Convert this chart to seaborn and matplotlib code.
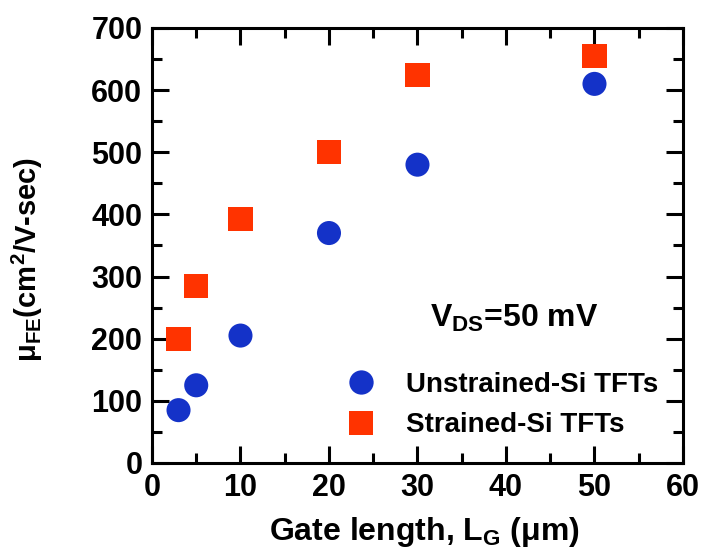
import matplotlib
matplotlib.use("Agg")
import matplotlib.pyplot as plt
from matplotlib.ticker import MultipleLocator
import seaborn as sns
import pandas as pd

# Field-effect mobility vs gate length
gate_length = [3, 5, 10, 20, 30, 50]
mu_unstrained = [85, 125, 205, 370, 480, 610]
mu_strained = [200, 285, 393, 500, 625, 655]
series_names = ["Unstrained-Si TFTs", "Strained-Si TFTs"]

df = pd.DataFrame({
    "L": gate_length * 2,
    "mu": mu_unstrained + mu_strained,
    "device": [series_names[0]] * len(gate_length) + [series_names[1]] * len(gate_length),
})

sns.set_theme(style="ticks")
plt.rcParams["font.family"] = ["Liberation Sans", "DejaVu Sans"]
plt.rcParams["font.weight"] = "bold"
plt.rcParams["text.color"] = "black"
plt.rcParams["axes.labelcolor"] = "black"
plt.rcParams["mathtext.fontset"] = "custom"
plt.rcParams["mathtext.rm"] = "Liberation Sans:bold"
plt.rcParams["mathtext.bf"] = "Liberation Sans:bold"
plt.rcParams["mathtext.it"] = "Liberation Sans:bold"

fig = plt.figure(figsize=(7.01, 5.58), dpi=100)
ax = fig.add_axes([0.2168, 0.1703, 0.7575, 0.7796])

palette = {series_names[0]: "#1432C8", series_names[1]: "#FF3300"}
markers = {series_names[0]: "o", series_names[1]: "s"}
sns.scatterplot(data=df, x="L", y="mu", hue="device", style="device",
                palette=palette, markers=markers, s=300, linewidth=0,
                ax=ax, legend=True)

ax.set_xlim(0, 60)
ax.set_ylim(0, 700)
ax.xaxis.set_major_locator(MultipleLocator(10))
ax.xaxis.set_minor_locator(MultipleLocator(5))
ax.yaxis.set_major_locator(MultipleLocator(100))
ax.yaxis.set_minor_locator(MultipleLocator(50))
ax.tick_params(which="both", direction="in", top=True, right=True,
               width=2.2, colors="black")
ax.tick_params(which="major", length=12.5, labelsize=22, pad=7)
ax.tick_params(which="minor", length=7)
for lab in ax.get_xticklabels() + ax.get_yticklabels():
    lab.set_fontweight("bold")
for sp in ax.spines.values():
    sp.set_linewidth(2.2)
    sp.set_color("black")

ax.set_xlabel(r"Gate length, L$_{\mathbf{G}}$ (μm)", fontsize=23,
              fontweight="bold")
ax.xaxis.set_label_coords(0.512, -0.12)
ax.set_ylabel(r"μ$_{\mathbf{FE}}$(cm$^{\mathbf{2}}$/V-sec)", fontsize=21,
              fontweight="bold")
ax.yaxis.set_label_coords(-0.2015, 0.467)

ax.text(40.9, 232, r"V$_{\mathbf{DS}}$=50 mV", fontsize=23,
        fontweight="bold", ha="center", va="center")

handles, labels = ax.get_legend_handles_labels()
for h in handles:
    h.set_markersize(17.5)
ax.legend(handles, labels, loc="upper left", bbox_to_anchor=(0.305, 0.267),
          frameon=False, handletextpad=0.8, labelspacing=0.52,
          handlelength=1.6, prop={"weight": "bold", "size": 20})

fig.savefig("out.png", dpi=100)
